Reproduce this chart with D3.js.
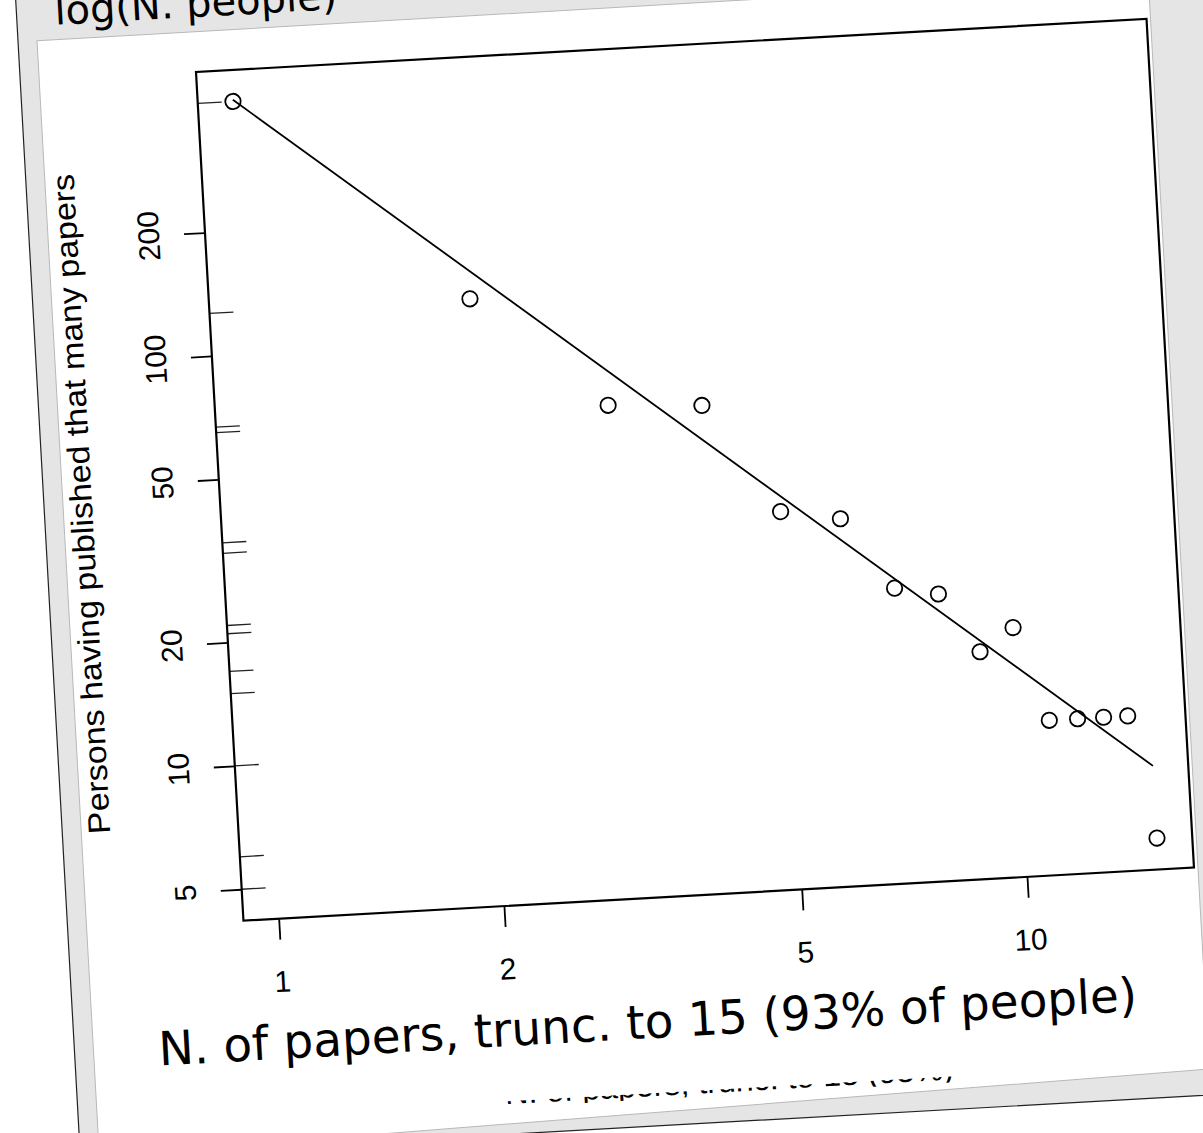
<!DOCTYPE html>
<html>
<head>
<meta charset="utf-8">
<script src="https://cdn.jsdelivr.net/npm/d3@7"></script>
<style>
  body { margin: 0; background: #fff; }
  svg { display: block; }
</style>
</head>
<body>
<div id="graph"></div>
<script>
// values
const nPapers = [1, 2, 3, 4, 5, 6, 7, 8, 9, 10, 11, 12, 13, 14, 15];
const nPeople = [413, 127, 67, 65, 35, 33, 22, 21, 15, 17, 10, 10, 10, 10, 5];
const rugPeople = [413, 127, 67, 65, 35, 33, 22, 21, 17, 15, 10, 6, 5];
const fitPapers = [1, 15];
const fitPeople = [417, 7.5];
const xTicks = [1, 2, 5, 10];
const yTicks = [5, 10, 20, 50, 100, 200];

const xTitle = 'N. of papers, trunc. to 15 (93% of people)';
const yTitle = 'Persons having published that many papers';
const topTitle = 'log(N. people)';
const hiddenTitle = 'N. of papers, trunc. to 15 (93%)';

const width = 1203;
const height = 1133;
const box = { left: 196, top: 72, right: 1148, bottom: 922 };
const tilt = -3.2;
const axisFont = '"Liberation Sans", Arial, Helvetica, sans-serif';
const bigFont = '"DejaVu Sans", Verdana, sans-serif';

// R style: log range padded by 4% each side
const pad4 = ext => {
  const a = Math.log10(ext[0]), b = Math.log10(ext[1]), d = (b - a) * 0.04;
  return [Math.pow(10, a - d), Math.pow(10, b + d)];
};

const svg = d3.select('#graph')
  .append('svg')
  .attr('width', width)
  .attr('height', height);

svg.append('rect')
  .attr('width', width)
  .attr('height', height)
  .attr('fill', '#fff');

const g = svg.append('g')
  .attr('transform', `rotate(${tilt},${box.left},${box.top})`);

const xScale = d3.scaleLog()
  .domain(pad4(d3.extent(nPapers)))
  .range([box.left, box.right]);

const yScale = d3.scaleLog()
  .domain(pad4(d3.extent(nPeople)))
  .range([box.bottom, box.top]);

// X AXIS
const xAxis = g.append('g')
  .attr('transform', `translate(0,${box.bottom})`)
  .call(d3.axisBottom(xScale).tickValues(xTicks).tickFormat(d3.format('d'))
    .tickSize(21).tickPadding(31).tickSizeOuter(0));
xAxis.select('.domain').remove();
xAxis.selectAll('line').attr('stroke', '#000').attr('stroke-width', 1.8);
xAxis.selectAll('text')
  .attr('font-family', axisFont)
  .attr('font-size', 30)
  .attr('fill', '#000');

// Y AXIS
const yAxis = g.append('g')
  .attr('transform', `translate(${box.left},0)`)
  .call(d3.axisLeft(yScale).tickValues(yTicks).tickFormat(d3.format('d'))
    .tickSize(21).tickSizeOuter(0));
yAxis.select('.domain').remove();
yAxis.selectAll('line').attr('stroke', '#000').attr('stroke-width', 1.8);
yAxis.selectAll('text')
  .attr('x', 0)
  .attr('dy', 0)
  .attr('text-anchor', 'middle')
  .attr('transform', 'translate(-46,0) rotate(-90)')
  .attr('font-family', axisFont)
  .attr('font-size', 30)
  .attr('fill', '#000');

// RUG ON Y AXIS
g.append('g')
  .selectAll('line')
  .data(rugPeople)
  .enter()
  .append('line')
  .attr('x1', box.left)
  .attr('x2', box.left + 24)
  .attr('y1', d => yScale(d))
  .attr('y2', d => yScale(d))
  .attr('stroke', '#222')
  .attr('stroke-width', 1.3);

// BOX
g.append('rect')
  .attr('x', box.left)
  .attr('y', box.top)
  .attr('width', box.right - box.left)
  .attr('height', box.bottom - box.top)
  .attr('fill', 'none')
  .attr('stroke', '#000')
  .attr('stroke-width', 2.2);

// FIT LINE
g.append('path')
  .datum(d3.zip(fitPapers, fitPeople))
  .attr('fill', 'none')
  .attr('stroke', '#000')
  .attr('stroke-width', 1.8)
  .attr('d', d3.line()
    .x(d => xScale(d[0]))
    .y(d => yScale(d[1])));

// POINTS
g.append('g')
  .selectAll('circle')
  .data(d3.zip(nPapers, nPeople))
  .enter()
  .append('circle')
  .attr('cx', d => xScale(d[0]))
  .attr('cy', d => yScale(d[1]))
  .attr('r', 7.7)
  .attr('fill', 'none')
  .attr('stroke', '#000')
  .attr('stroke-width', 1.8);

// Y TITLE
g.append('text')
  .attr('transform', `translate(68,${(box.top + box.bottom) / 2}) rotate(-90)`)
  .attr('text-anchor', 'middle')
  .attr('font-family', axisFont)
  .attr('font-size', 31)
  .attr('textLength', 661)
  .attr('lengthAdjust', 'spacingAndGlyphs')
  .text(yTitle);

// OLD X TITLE, only the bottom edge shows
const clip = svg.append('defs').append('clipPath').attr('id', 'hidden-clip');
clip.append('rect')
  .attr('x', 39).attr('y', 1117)
  .attr('width', 1113).attr('height', 6);

g.append('text')
  .attr('clip-path', 'url(#hidden-clip)')
  .attr('x', (box.left + box.right) / 2)
  .attr('y', 1120)
  .attr('text-anchor', 'middle')
  .attr('font-family', axisFont)
  .attr('font-size', 32)
  .attr('textLength', 449)
  .attr('lengthAdjust', 'spacingAndGlyphs')
  .text(hiddenTitle);

// BIG X TITLE
g.append('text')
  .attr('x', 104)
  .attr('y', 1062)
  .attr('font-family', bigFont)
  .attr('font-size', 47)
  .attr('textLength', 980)
  .attr('lengthAdjust', 'spacingAndGlyphs')
  .text(xTitle);

// GREY FRAME (white card inside, bottom edge runs a bit skew)
const outer = [[20, -300], [1600, -300], [1600, 1150], [20, 1150]];
const inner = [[39, 32], [1152, 30], [1152, 1124], [39, 1149]];
const ring = pts => 'M' + pts.map(p => p.join(',')).join('L') + 'Z';

g.append('path')
  .attr('fill-rule', 'evenodd')
  .attr('fill', '#e5e5e5')
  .attr('d', ring(outer) + ring(inner));

g.append('path')
  .attr('fill', 'none')
  .attr('stroke', '#b8b8b8')
  .attr('stroke-width', 1)
  .attr('d', ring(inner));

g.append('path')
  .attr('fill', 'none')
  .attr('stroke', '#222')
  .attr('stroke-width', 1.2)
  .attr('d', `M${outer[0][0]},${outer[0][1]}V${outer[3][1]}H${outer[2][0]}`);

// TOP TITLE
g.append('text')
  .attr('x', 58)
  .attr('y', 17)
  .attr('font-family', bigFont)
  .attr('font-size', 40)
  .attr('fill', '#000')
  .text(topTitle);
</script>
</body>
</html>
